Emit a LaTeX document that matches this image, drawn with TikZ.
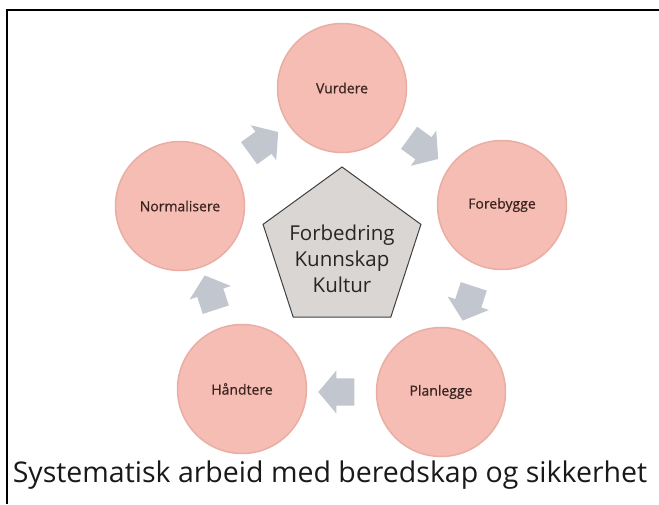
\documentclass[tikz,border=0pt]{standalone}
\usepackage{fontspec}
\setmainfont{Open Sans}
\newfontfamily\stegfont[FakeBold=0.6]{Open Sans}
\usepackage{tikz}
\usetikzlibrary{shapes.geometric, shapes.arrows}

\definecolor{rosa}{HTML}{F5BDB4}
\definecolor{rosakant}{HTML}{EAADA4}
\definecolor{brun}{HTML}{3A2420}
\definecolor{pilgraa}{HTML}{C2C6CF}
\definecolor{kjernegraa}{HTML}{D9D6D3}

\begin{document}
\begin{tikzpicture}[x=1pt,y=-1pt,
        steg/.style={circle,draw=rosakant,line width=1.5pt,fill=rosa,text=brun,minimum size=129pt,inner sep=0pt,font=\stegfont\fontsize{14}{16}\selectfont},
        pil/.style={single arrow,fill=pilgraa,draw=none,minimum height=36pt,single arrow head extend=8pt,single arrow tip angle=100,inner xsep=0pt,inner ysep=13.5pt},
        kjerne/.style={regular polygon,regular polygon sides=5,draw=black!75,line width=1pt,fill=kjernegraa,minimum size=166pt,inner sep=0pt}]

        \useasboundingbox (0,0) rectangle (659,504);

        % ramme
        \draw[line width=2pt] (7,504) -- (7,10) -- (659,10);

        \node[steg] (n1) at (342,88)  {Vurdere};
        \node[steg] (n2) at (502,205) {Forebygge};
        \node[steg] (n3) at (441,392) {Planlegge};
        \node[steg] (n4) at (242,389) {Håndtere};
        \node[steg] (n5) at (180,206) {Normalisere};

        \node[pil, rotate=-36]  (p12) at (419,145) {};
        \node[pil, rotate=-108] (p23) at (470,298) {};
        \node[pil, rotate=180]  (p34) at (342,392) {};
        \node[pil, rotate=108]  (p45) at (212,298) {};
        \node[pil, rotate=36]   (p51) at (259,146) {};

        \node[kjerne] (K) at (342,250) {};
        \node[align=center, text=black!85, font=\fontsize{20.5}{26}\selectfont] (Ktekst) at (342,259) {Forbedring\\Kunnskap\\Kultur};

        \node[anchor=base, text=black!90, font=\fontsize{28.5}{30}\selectfont] (tittel) at (330,482) {Systematisk arbeid med beredskap og sikkerhet};
\end{tikzpicture}
\end{document}
